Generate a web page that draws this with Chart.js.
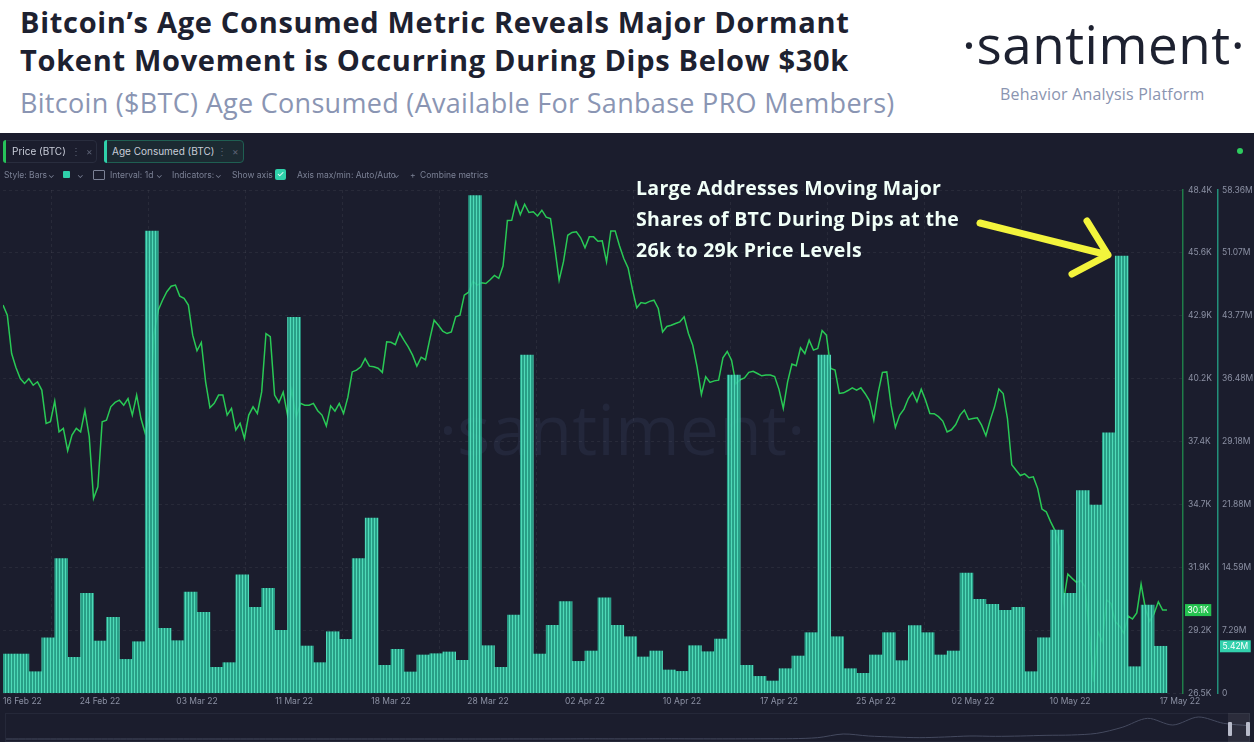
<!DOCTYPE html>
<html>
<head>
<meta charset="utf-8">
<script src="https://cdn.jsdelivr.net/npm/chart.js@4.4.1/dist/chart.umd.min.js"></script>
<style>
  body { margin: 0; width: 1254px; height: 742px; overflow: hidden; background: #fff; position: relative; font-family: 'Open Sans', sans-serif; }
  .title { position: absolute; left: 20px; top: 3px; font-size: 29px; font-weight: 700; line-height: 38px; letter-spacing: 0.7px; color: #1d2130; white-space: nowrap; }
  .subtitle { position: absolute; left: 20px; top: 85px; font-size: 27px; line-height: 36px; letter-spacing: 0.3px; color: #8a95b3; white-space: nowrap; }
  .logo { position: absolute; left: 962px; top: 17px; font-size: 53px; line-height: 53px; color: #1d2130; white-space: nowrap; letter-spacing: 0.5px; }
  .tagline { position: absolute; left: 1000px; top: 84px; font-size: 16px; line-height: 20px; letter-spacing: 0.2px; color: #8a94b0; white-space: nowrap; }
  #panel { position: absolute; left: 0; top: 133px; width: 1254px; height: 609px; background: #1b1d2d; overflow: hidden; }
  #wrap { position: absolute; left: 0; top: 0; width: 1254px; height: 609px; z-index: 1; }
  .wm { position: absolute; left: 0; width: 1244px; top: 250px; text-align: center; font-size: 70px; line-height: 90px; color: #23273b; z-index: 0; white-space: nowrap; }
  .chip { position: absolute; top: 7px; height: 23px; box-sizing: border-box; border: 1px solid #292d3e; border-radius: 4px; font-family: Inter, sans-serif; font-size: 10px; color: #c9cdd9; }
  .chip i { position: absolute; left: -1px; top: -1px; bottom: -1px; width: 3px; border-radius: 3px 0 0 3px; }
  .chip span, .chip b, .chip em { position: absolute; top: 0; line-height: 21px; font-style: normal; font-weight: 400; }
  .chip b, .chip em { color: #5d6275; }
  .tool { position: absolute; top: 36px; line-height: 12px; font-family: Inter, sans-serif; font-size: 8.5px; color: #7b8195; white-space: nowrap; z-index: 2; }
  .note { position: absolute; left: 636px; top: 39px; font-size: 19.5px; font-weight: 700; line-height: 31px; letter-spacing: 0.3px; color: #f1fff8; white-space: nowrap; z-index: 3; }
  #nav { position: absolute; left: 5px; top: 580px; width: 1245px; height: 29px; box-sizing: border-box; border: 1px solid #252839; z-index: 1; }
  #navSel { position: absolute; left: 1228px; top: 580px; width: 22px; height: 29px; background: rgba(255,255,255,0.07); z-index: 2; }
  #navSel i { position: absolute; top: 9px; width: 4px; height: 14px; background: #b9bccb; border-radius: 1px; }
  svg { position: absolute; left: 0; top: 0; z-index: 3; }
</style>
</head>
<body>
<div class="title">Bitcoin’s Age Consumed Metric Reveals Major Dormant<br>Tokent Movement is Occurring During Dips Below $30k</div>
<div class="subtitle">Bitcoin ($BTC) Age Consumed (Available For Sanbase PRO Members)</div>
<div class="logo">·santiment·</div>
<div class="tagline">Behavior Analysis Platform</div>

<div id="panel">
  <div class="wm">·santiment·</div>
  <div id="wrap"><canvas id="chart"></canvas></div>

  <div class="chip" style="left:3px;width:94px;z-index:2">
    <i style="background:#27c25a"></i><span style="left:8px">Price (BTC)</span><b style="left:67px">⋮</b><em style="left:82px">×</em>
  </div>
  <div class="chip" style="left:104px;width:140px;background:#1c2a32;border-color:#1f5f52;z-index:2">
    <i style="background:#2fd0aa"></i><span style="left:7px">Age Consumed (BTC)</span><b style="left:112px">⋮</b><em style="left:127px">×</em>
  </div>
  <div style="position:absolute;left:1237px;top:15px;width:6px;height:6px;border-radius:3px;background:#2ecc5f;z-index:2"></div>

  <span class="tool" style="left:4px">Style: Bars</span>
  <span class="tool" style="left:48px">⌄</span>
  <span class="tool" style="left:63px;top:38px;width:7px;height:7px;background:#2fd0aa;border-radius:1px"></span>
  <span class="tool" style="left:77px">⌄</span>
  <span class="tool" style="left:93px;top:37px;width:10px;height:8px;border:1px solid #7b8195;border-radius:1px"></span>
  <span class="tool" style="left:110px">Interval: 1d</span>
  <span class="tool" style="left:156px">⌄</span>
  <span class="tool" style="left:172px">Indicators:</span>
  <span class="tool" style="left:215px">⌄</span>
  <span class="tool" style="left:232px">Show axis</span>
  <span class="tool" style="left:275px;top:36px;width:11px;height:11px;background:#2fd0aa;border-radius:2px;color:#fff;text-align:center;line-height:11px">✓</span>
  <span class="tool" style="left:297px">Axis max/min: Auto/Auto</span>
  <span class="tool" style="left:393px">⌄</span>
  <span class="tool" style="left:410px">+</span>
  <span class="tool" style="left:420px">Combine metrics</span>

  <div class="note">Large Addresses Moving Major<br>Shares of BTC During Dips at the<br>26k to 29k Price Levels</div>
  <svg width="1254" height="609">
    <path d="M980 90 L1108 122 M1087 88 L1108 122 L1072 141" stroke="#f3f43c" stroke-width="7" fill="none" stroke-linecap="round" stroke-linejoin="round"/>
  </svg>

  <div id="nav"><canvas id="navChart"></canvas></div>
  <div id="navSel"><i style="left:0"></i><i style="right:0"></i></div>
</div>

<script>
// Age Consumed (BTC), millions, one value per day (15 Feb 22 .. 15 May 22)
const ageConsumed = [
  4.52, 4.52, 2.47, 6.4, 15.6, 4.14, 11.56, 6.03, 8.78, 3.9,
  5.95, 53.6, 7.5, 6.07, 11.7, 9.36, 2.98, 3.52, 13.7, 9.94,
  12.14, 7.27, 43.6, 5.45, 3.52, 7.11, 6.23, 15.6, 20.3, 3.21,
  5.07, 2.44, 4.41, 4.56, 4.76, 3.79, 57.7, 5.49, 2.98, 9.05,
  39.2, 4.52, 7.85, 10.6, 3.67, 4.87, 11.05, 7.85, 6.53, 4.18,
  4.87, 2.67, 2.51, 5.49, 4.79, 6.26, 36.9, 3.21, 1.93, 1.39,
  2.82, 4.29, 7.0, 39.2, 6.53, 2.82, 2.28, 4.41, 7.0, 3.75,
  7.81, 7.0, 4.41, 4.87, 13.9, 10.87, 10.3, 9.6, 9.94, 2.47,
  6.41, 18.9, 11.56, 23.5, 21.8, 30.2, 50.7, 3.05, 10.2, 5.42
];

// BTC price (thousand USD), three readings per day over the same span
const price = [
  43.39,42.95,41.28,40.67,40.19,39.98,40.18,39.90,40.05,39.69,
  38.24,38.31,39.21,37.87,38.02,37.05,37.73,38.02,37.87,38.80,
  37.66,34.97,35.48,38.31,38.38,38.96,39.15,39.25,39.03,39.32,
  38.60,39.47,38.45,37.80,38.57,42.08,43.17,43.60,43.97,44.21,
  44.26,43.78,43.68,43.39,42.08,41.40,41.76,40.05,38.92,39.11,
  39.47,39.47,38.60,38.89,37.95,38.24,37.58,38.60,38.96,38.67,
  39.61,42.15,42.01,39.47,39.15,39.60,38.60,39.69,38.50,39.11,
  39.03,39.03,39.11,38.79,38.60,38.13,39.00,38.77,39.11,38.67,
  39.38,40.48,40.56,40.70,41.06,40.73,40.70,40.64,40.46,41.79,
  41.77,41.67,42.18,41.86,41.57,41.21,40.73,41.12,41.01,41.91,
  42.73,42.51,42.25,42.15,42.22,42.88,42.95,43.82,43.95,44.43,
  44.26,44.36,44.33,44.49,44.68,44.55,45.10,47.07,47.08,47.88,
  47.33,47.78,47.42,47.45,47.27,47.52,47.22,47.16,45.88,44.47,
  45.27,46.43,46.55,46.58,46.32,45.88,46.36,46.36,46.17,46.19,
  45.27,46.62,46.62,45.97,45.42,45.01,44.08,43.27,43.50,43.46,
  43.55,43.60,43.24,42.22,42.46,42.51,42.59,42.66,42.88,42.15,
  41.64,40.70,39.50,40.27,40.02,40.09,40.12,41.09,41.37,40.99,
  39.96,40.14,40.22,40.46,40.51,40.41,40.31,40.34,40.34,40.28,
  39.72,38.89,40.05,40.82,40.75,41.53,41.28,41.86,41.43,41.50,
  42.28,42.08,40.63,40.56,39.54,39.57,39.67,39.79,39.69,39.79,
  39.53,39.22,38.38,39.57,40.46,40.48,39.03,38.06,38.60,38.86,
  39.32,39.59,39.18,39.73,39.25,38.67,38.66,38.53,38.34,37.87,
  37.96,38.19,38.60,38.82,38.41,38.45,38.48,38.16,37.70,38.38,
  38.96,39.74,39.54,38.45,36.44,36.20,35.97,36.04,35.87,35.91,
  35.41,34.51,34.39,33.96,33.58,32.87,30.47,31.68,31.49,31.32,
  31.40,31.13,29.10,26.99,29.17,28.73,30.55,30.40,29.61,29.42,
  29.10,29.85,29.72,29.99,31.24,30.18,29.63,29.95,30.47,30.11,
  30.11
];

const dateLabels = ['16 Feb 22', '24 Feb 22', '03 Mar 22', '11 Mar 22', '18 Mar 22', '28 Mar 22', '02 Apr 22',
  '10 Apr 22', '17 Apr 22', '25 Apr 22', '02 May 22', '10 May 22', '17 May 22'];
const priceTickLabels = ['26.5K', '29.2K', '31.9K', '34.7K', '37.4K', '40.2K', '42.9K', '45.6K', '48.4K'];
const ageTickLabels = ['0', '7.29M', '14.59M', '21.88M', '29.18M', '36.48M', '43.77M', '51.07M', '58.36M'];

// long history shown in the navigator strip (thousand USD)
const navPrice = [
  0, 0, 0, 0, 0, 0, 0, 0, 0, 0,
  0, 0, 0, 0, 0, 0, 0, 0, 0, 0,
  0.1, 0.1, 0.2, 0.5, 0.3, 0.4, 0.6, 0.4, 0.3, 0.4,
  0.6, 1, 4, 15, 9, 6, 4, 6, 9, 8,
  9, 11, 12, 17, 35, 62, 42, 66, 47, 40
];

const priceMin = 26.5, priceMax = 48.4;
const ageMin = 0, ageMax = 58.36;
const perDay = 3;
const dayMax = 91.24;

function stripes(a, b) {
  const c = document.createElement('canvas');
  c.width = 3; c.height = 4;
  const g = c.getContext('2d');
  g.fillStyle = a; g.fillRect(0, 0, 3, 4);
  g.fillStyle = b; g.fillRect(2, 0, 1, 4);
  return g.createPattern(c, 'repeat');
}

const gridColor = 'rgba(255,255,255,0.06)';
const tickFont = { family: 'Inter', size: 8.5 };

const lastBadges = {
  id: 'lastBadges',
  afterDraw(chart) {
    const { ctx, scales } = chart;
    const lp = price[price.length - 1];
    const la = ageConsumed[ageConsumed.length - 1];
    const items = [
      { s: scales.y, v: lp, text: lp.toFixed(1) + 'K', bg: '#25c350' },
      { s: scales.y1, v: la, text: la.toFixed(2) + 'M', bg: '#33d1ad' }
    ];
    ctx.save();
    ctx.font = '8.5px Inter';
    ctx.textBaseline = 'middle';
    items.forEach(it => {
      const py = it.s.getPixelForValue(it.v);
      const x = it.s.left + 2;
      const w = ctx.measureText(it.text).width + 5;
      ctx.fillStyle = it.bg;
      ctx.fillRect(x, py - 6, w, 12);
      ctx.fillStyle = '#ffffff';
      ctx.fillText(it.text, x + 2.5, py + 0.5);
    });
    ctx.restore();
  }
};

new Chart(document.getElementById('chart'), {
  type: 'bar',
  data: {
    datasets: [
      {
        type: 'bar',
        label: 'Age Consumed (BTC)',
        data: ageConsumed.map((v, i) => ({ x: i + 0.5, y: v })),
        xAxisID: 'x',
        yAxisID: 'y1',
        backgroundColor: stripes('rgba(44,181,150,0.86)', 'rgba(86,228,192,0.86)'),
        borderWidth: 0,
        barPercentage: 1,
        categoryPercentage: 1,
        order: 0
      },
      {
        type: 'line',
        label: 'Price (BTC)',
        data: price.map((v, k) => ({ x: k / perDay, y: v })),
        xAxisID: 'x',
        yAxisID: 'y',
        borderColor: '#29c955',
        borderWidth: 1.5,
        pointRadius: 0,
        tension: 0,
        order: 1
      }
    ]
  },
  options: {
    responsive: true,
    maintainAspectRatio: false,
    animation: false,
    layout: { padding: { top: 57, left: 3, right: 0, bottom: 29 } },
    plugins: { legend: { display: false }, tooltip: { enabled: false } },
    scales: {
      x: {
        type: 'linear', position: 'bottom', min: 0, max: dayMax, offset: false,
        grid: { display: false, drawTicks: false, tickLength: 0 },
        border: { display: false },
        afterBuildTicks: s => { s.ticks = dateLabels.map((_, i) => ({ value: i === 0 ? 1.5 : (i === dateLabels.length - 1 ? 91 : 7.5 * i) })); },
        afterFit: s => { s.height = 20; },
        ticks: { autoSkip: false, maxRotation: 0, padding: 3, color: '#8b90a3', font: tickFont, callback: (v, i) => dateLabels[i] }
      },
      xg: {
        type: 'linear', position: 'top', min: 0, max: dayMax, offset: false,
        afterBuildTicks: s => { s.ticks = dateLabels.map((_, i) => ({ value: 7.5 * i })); },
        afterFit: s => { s.height = 0; },
        grid: { color: gridColor, drawTicks: false, tickBorderDash: [3, 3] },
        border: { display: false, dash: [3, 3] },
        ticks: { display: false }
      },
      y: {
        type: 'linear', position: 'right', weight: 0, min: priceMin, max: priceMax,
        afterBuildTicks: s => { s.ticks = priceTickLabels.map((_, i) => ({ value: priceMin + i * (priceMax - priceMin) / 8 })); },
        afterFit: s => { s.width = 35; },
        grid: { color: gridColor, drawTicks: false },
        border: { color: '#1f7d48', width: 1.5, dash: [3, 3] },
        ticks: { padding: 5, color: '#8b90a3', font: tickFont, callback: (v, i) => priceTickLabels[i] }
      },
      y1: {
        type: 'linear', position: 'right', weight: 1, min: ageMin, max: ageMax,
        afterBuildTicks: s => { s.ticks = ageTickLabels.map((_, i) => ({ value: ageMin + i * (ageMax - ageMin) / 8 })); },
        afterFit: s => { s.width = 36; },
        grid: { display: false, drawTicks: false },
        border: { color: '#22907a', width: 1.5 },
        ticks: { padding: 4, color: '#8b90a3', font: tickFont, callback: (v, i) => ageTickLabels[i] }
      }
    }
  },
  plugins: [lastBadges]
});

new Chart(document.getElementById('navChart'), {
  type: 'line',
  data: {
    labels: navPrice.map((_, i) => i),
    datasets: [{ data: navPrice, borderColor: '#454a5f', borderWidth: 1, pointRadius: 0, tension: 0.3 }]
  },
  options: {
    responsive: true, maintainAspectRatio: false, animation: false,
    layout: { padding: 0 },
    plugins: { legend: { display: false }, tooltip: { enabled: false } },
    scales: { x: { display: false }, y: { display: false, min: -6, max: 75 } }
  }
});
</script>
</body>
</html>
